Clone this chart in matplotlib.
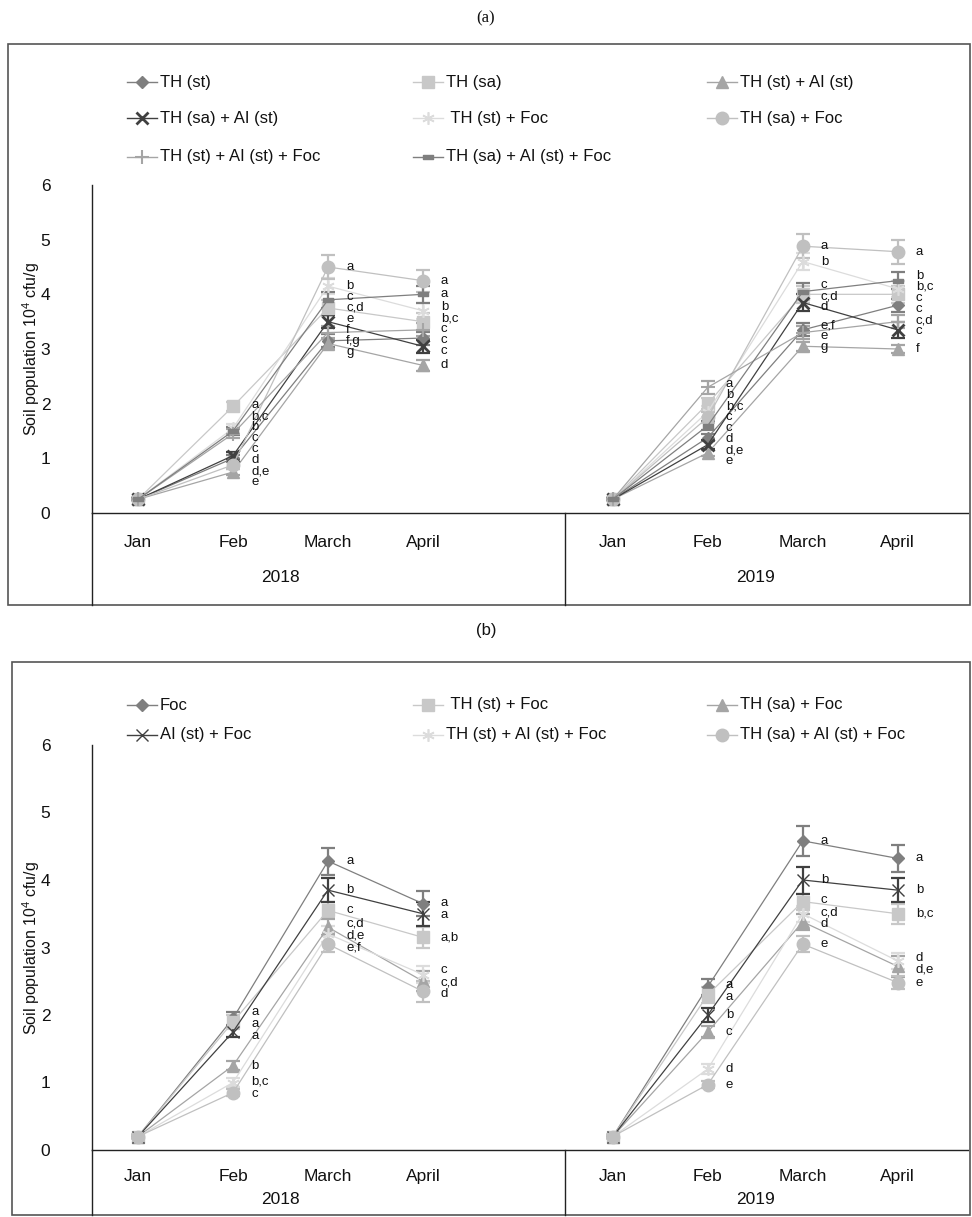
import matplotlib
matplotlib.use("Agg")
import matplotlib.pyplot as plt
from matplotlib.lines import Line2D
from matplotlib.patches import Rectangle
from matplotlib.path import Path
import numpy as np

plt.rcParams["font.family"] = ["Liberation Sans", "DejaVu Sans"]
plt.rcParams["mathtext.fontset"] = "custom"
plt.rcParams["mathtext.rm"] = "Liberation Sans"
plt.rcParams["mathtext.it"] = "Liberation Sans:italic"

# ---------------------------------------------------------------- data
months = ["Jan", "Feb", "March", "April"]
years = ["2018", "2019"]
y_label = "Soil population 10$^4$ cfu/g"

# Panel (a): values are 2018 Jan..April followed by 2019 Jan..April
a_names = ["TH (st)", "TH (sa)", "TH (st) + AI (st)", "TH (sa) + AI (st)",
           " TH (st) + Foc", "TH (sa) + Foc", "TH (st) + AI (st) + Foc",
           "TH (sa) + AI (st) + Foc"]
a_th_st = [0.25, 1.00, 3.15, 3.20, 0.25, 1.38, 3.35, 3.80]
a_th_sa = [0.25, 1.95, 3.75, 3.50, 0.25, 2.00, 4.00, 4.00]
a_th_st_ai = [0.25, 0.75, 3.10, 2.70, 0.25, 1.10, 3.05, 3.00]
a_th_sa_ai = [0.25, 1.05, 3.50, 3.05, 0.25, 1.25, 3.85, 3.35]
a_th_st_foc = [0.25, 1.55, 4.15, 3.70, 0.25, 1.85, 4.60, 4.10]
a_th_sa_foc = [0.25, 0.88, 4.50, 4.25, 0.25, 1.75, 4.88, 4.78]
a_th_st_ai_foc = [0.25, 1.45, 3.30, 3.35, 0.25, 2.30, 3.30, 3.50]
a_th_sa_ai_foc = [0.25, 1.50, 3.90, 4.00, 0.25, 1.60, 4.05, 4.25]

a_err_th_st = [0.02, 0.06, 0.12, 0.12, 0.02, 0.07, 0.12, 0.12]
a_err_th_sa = [0.02, 0.08, 0.15, 0.15, 0.02, 0.10, 0.15, 0.15]
a_err_th_st_ai = [0.02, 0.06, 0.10, 0.10, 0.02, 0.06, 0.08, 0.08]
a_err_th_sa_ai = [0.02, 0.07, 0.12, 0.12, 0.02, 0.08, 0.15, 0.15]
a_err_th_st_foc = [0.02, 0.08, 0.15, 0.15, 0.02, 0.10, 0.15, 0.15]
a_err_th_sa_foc = [0.02, 0.08, 0.22, 0.20, 0.02, 0.10, 0.22, 0.22]
a_err_th_st_ai_foc = [0.02, 0.08, 0.12, 0.12, 0.02, 0.12, 0.12, 0.12]
a_err_th_sa_ai_foc = [0.02, 0.08, 0.15, 0.15, 0.02, 0.08, 0.15, 0.15]

a_let_th_st = ["", "d", "f,g", "c", "", "d", "e,f", "c"]
a_let_th_sa = ["", "a", "c,d", "b,c", "", "b", "c,d", "c"]
a_let_th_st_ai = ["", "e", "g", "d", "", "e", "g", "f"]
a_let_th_sa_ai = ["", "c", "e", "c", "", "d,e", "d", "c"]
a_let_th_st_foc = ["", "b,c", "b", "b", "", "b,c", "b", "b,c"]
a_let_th_sa_foc = ["", "d,e", "a", "a", "", "c", "a", "a"]
a_let_th_st_ai_foc = ["", "c", "f", "c", "", "a", "e", "c,d"]
a_let_th_sa_ai_foc = ["", "b", "c", "a", "", "c", "c", "b"]

# Panel (b)
b_names = ["Foc", " TH (st) + Foc", "TH (sa) + Foc", "AI (st) + Foc",
           "TH (st) + AI (st) + Foc", "TH (sa) + AI (st) + Foc"]
b_foc = [0.20, 1.95, 4.28, 3.65, 0.20, 2.42, 4.58, 4.32]
b_th_st_foc = [0.20, 1.90, 3.55, 3.15, 0.20, 2.30, 3.68, 3.50]
b_th_sa_foc = [0.20, 1.25, 3.30, 2.50, 0.20, 1.75, 3.38, 2.72]
b_ai_st_foc = [0.20, 1.75, 3.85, 3.50, 0.20, 2.00, 4.00, 3.85]
b_th_st_ai_st_foc = [0.20, 1.00, 3.20, 2.60, 0.20, 1.20, 3.50, 2.80]
b_th_sa_ai_st_foc = [0.20, 0.85, 3.05, 2.35, 0.20, 0.97, 3.05, 2.48]

b_err_foc = [0.02, 0.10, 0.20, 0.18, 0.02, 0.12, 0.22, 0.20]
b_err_th_st_foc = [0.02, 0.10, 0.12, 0.15, 0.02, 0.12, 0.12, 0.15]
b_err_th_sa_foc = [0.02, 0.07, 0.12, 0.15, 0.02, 0.08, 0.12, 0.15]
b_err_ai_st_foc = [0.02, 0.08, 0.18, 0.18, 0.02, 0.10, 0.20, 0.18]
b_err_th_st_ai_st_foc = [0.02, 0.06, 0.12, 0.12, 0.02, 0.08, 0.12, 0.12]
b_err_th_sa_ai_st_foc = [0.02, 0.05, 0.12, 0.15, 0.02, 0.05, 0.12, 0.10]

b_let_foc = ["", "a", "a", "a", "", "a", "a", "a"]
b_let_th_st_foc = ["", "a", "c", "a,b", "", "a", "c", "b,c"]
b_let_th_sa_foc = ["", "b", "c,d", "c,d", "", "c", "d", "d,e"]
b_let_ai_st_foc = ["", "a", "b", "a", "", "b", "b", "b"]
b_let_th_st_ai_st_foc = ["", "b,c", "d,e", "c", "", "d", "c,d", "d"]
b_let_th_sa_ai_st_foc = ["", "c", "e,f", "d", "", "e", "e", "e"]

# ---------------------------------------------------------------- styles
DASH = Path([(-1, -0.4), (1, -0.4), (1, 0.4), (-1, 0.4), (-1, -0.4)],
            [Path.MOVETO, Path.LINETO, Path.LINETO, Path.LINETO, Path.CLOSEPOLY])

sty_diamond = dict(marker="D", ms=6.5, color="#7f7f7f", mec="#7f7f7f", mew=1)
sty_square = dict(marker="s", ms=8.5, color="#c8c8c8", mec="#c8c8c8", mew=1)
sty_tri = dict(marker="^", ms=8, color="#a5a5a5", mec="#a5a5a5", mew=1)
sty_xbold = dict(marker="x", ms=8.5, color="#404040", mec="#404040", mew=2)
sty_xthin = dict(marker="x", ms=9, color="#404040", mec="#404040", mew=1)
sty_star = dict(marker=(6, 2, 0), ms=9, color="#dcdcdc", mec="#dcdcdc", mew=1.2)
sty_circle = dict(marker="o", ms=9, color="#c0c0c0", mec="#c0c0c0", mew=1)
sty_plus = dict(marker="+", ms=10, color="#a5a5a5", mec="#a5a5a5", mew=1.5)
sty_dash = dict(marker=DASH, ms=7, color="#7f7f7f", mec="#7f7f7f", mew=1)

a_series = [
    (a_th_st, a_err_th_st, a_let_th_st, sty_diamond),
    (a_th_sa, a_err_th_sa, a_let_th_sa, sty_square),
    (a_th_st_ai, a_err_th_st_ai, a_let_th_st_ai, sty_tri),
    (a_th_sa_ai, a_err_th_sa_ai, a_let_th_sa_ai, sty_xbold),
    (a_th_st_foc, a_err_th_st_foc, a_let_th_st_foc, sty_star),
    (a_th_sa_foc, a_err_th_sa_foc, a_let_th_sa_foc, sty_circle),
    (a_th_st_ai_foc, a_err_th_st_ai_foc, a_let_th_st_ai_foc, sty_plus),
    (a_th_sa_ai_foc, a_err_th_sa_ai_foc, a_let_th_sa_ai_foc, sty_dash),
]
b_series = [
    (b_foc, b_err_foc, b_let_foc, sty_diamond),
    (b_th_st_foc, b_err_th_st_foc, b_let_th_st_foc, sty_square),
    (b_th_sa_foc, b_err_th_sa_foc, b_let_th_sa_foc, sty_tri),
    (b_ai_st_foc, b_err_ai_st_foc, b_let_ai_st_foc, sty_xthin),
    (b_th_st_ai_st_foc, b_err_th_st_ai_st_foc, b_let_th_st_ai_st_foc, sty_star),
    (b_th_sa_ai_st_foc, b_err_th_sa_ai_st_foc, b_let_th_sa_ai_st_foc, sty_circle),
]

W, H = 972, 1217
fig = plt.figure(figsize=(W / 100, H / 100), dpi=100)


def fx(px):
    return px / W


def fy(py):
    return 1 - py / H


# x positions: four months per year, one empty slot between the years
xpos = [0, 1, 2, 3, 5, 6, 7, 8]


def spread(vals, gap):
    """Push label heights apart so that neighbours keep at least `gap`."""
    vals = np.asarray(vals, float)
    order = np.argsort(-vals, kind="stable")
    y = vals[order].copy()
    for _ in range(400):
        moved = False
        for i in range(len(y) - 1):
            d = y[i] - y[i + 1]
            if d < gap - 1e-9:
                s = (gap - d) / 2
                y[i] += s
                y[i + 1] -= s
                moved = True
        if not moved:
            break
    out = np.empty_like(y)
    out[order] = y
    return out


def draw_panel(series, names, top_px, zero_px, frame, legend_rows, label_gap_px,
               month_drop, year_drop, title, title_y, title_font, title_size):
    left_px, right_px = 92, 968
    ax = fig.add_axes([fx(left_px), fy(zero_px), fx(right_px) - fx(left_px),
                       fy(top_px) - fy(zero_px)])
    ax.set_xlim(-0.485, 8.74)
    ax.set_ylim(0, 6)
    px_per_unit = (zero_px - top_px) / 6.0

    for vals, err, lets, st in series:
        for k in range(2):
            sl = slice(4 * k, 4 * k + 4)
            xs = xpos[sl]
            ys = vals[sl]
            ax.errorbar(xs, ys, yerr=err[sl], fmt="none", ecolor=st["color"],
                        elinewidth=1.6, capsize=5, capthick=1.6, zorder=2)
            ax.plot(xs, ys, lw=0.9, zorder=3, **st)

    # significance letters next to each month, spaced so they stay readable
    gap = label_gap_px / px_per_unit
    for i in range(8):
        if i % 4 == 0:
            continue
        vals_i = [s[0][i] for s in series]
        ys = spread(vals_i, gap)
        for s, yl in zip(series, ys):
            ax.text(xpos[i] + 0.19, yl, s[2][i], fontsize=9.5, ha="left",
                    va="center", color="#111111", zorder=5)

    for sp in ["top", "right"]:
        ax.spines[sp].set_visible(False)
    for sp in ["left", "bottom"]:
        ax.spines[sp].set_color("#222222")
        ax.spines[sp].set_linewidth(1.0)
    ax.set_yticks(range(7))
    ax.tick_params(axis="y", length=0, pad=30, labelsize=12.5, labelcolor="#111111")
    ax.set_xticks(xpos)
    ax.set_xticklabels(months + months)
    ax.tick_params(axis="x", length=0, pad=month_drop, labelsize=12.5,
                   labelcolor="#111111")
    for k, yr in enumerate(years):
        ax.annotate(yr, xy=(1.5 + 5 * k, 0), xycoords=("data", "axes fraction"),
                    xytext=(0, -year_drop * 0.72), textcoords="offset points",
                    ha="center", va="center", fontsize=12.5, color="#111111")
    ax.set_ylabel(y_label, fontsize=11.5, color="#111111")
    ax.yaxis.set_label_coords(-(left_px - 42) / (right_px - left_px), 0.5)

    # frame and the category separators below the axis
    fx0, fy0, fx1, fy1 = frame
    fig.add_artist(Rectangle((fx(fx0), fy(fy1)), fx(fx1) - fx(fx0), fy(fy0) - fy(fy1),
                             transform=fig.transFigure, fill=False,
                             edgecolor="#555555", lw=1.2))
    fig.add_artist(Line2D([fx(left_px)] * 2, [fy(zero_px), fy(fy1)],
                          transform=fig.transFigure, color="#222222", lw=1.0))
    sep_disp = ax.transData.transform((4.5, 0))
    sep_fig = fig.transFigure.inverted().transform(sep_disp)
    fig.add_artist(Line2D([sep_fig[0]] * 2, [fy(zero_px), fy(fy1)],
                          transform=fig.transFigure, color="#222222", lw=1.0))

    # legend: short line with the marker in its middle, then the name
    cols = [142, 428, 722]
    for idx, (name, s) in enumerate(zip(names, series)):
        r, c = divmod(idx, 3)
        cx, cy = cols[c], legend_rows[r]
        st = s[3]
        fig.add_artist(Line2D([fx(cx - 15), fx(cx), fx(cx + 15)], [fy(cy)] * 3,
                              transform=fig.transFigure, lw=1.0, markevery=[1],
                              **st))
        fig.text(fx(cx + 18), fy(cy), name, fontsize=12, va="center", ha="left",
                 color="#111111")
    fig.text(0.5, fy(title_y), title, ha="center", va="center", fontsize=title_size,
             family=title_font, color="#111111")
    return ax


draw_panel(a_series, a_names, top_px=185, zero_px=513, frame=(8, 44, 970, 605),
           legend_rows=[82, 118, 157], label_gap_px=11, month_drop=16,
           year_drop=64, title="(a)", title_y=18,
           title_font=["Liberation Serif", "DejaVu Serif"], title_size=12)
draw_panel(b_series, b_names, top_px=745, zero_px=1150, frame=(12, 662, 970, 1215),
           legend_rows=[705, 735], label_gap_px=12, month_drop=14,
           year_drop=49, title="(b)", title_y=631,
           title_font=["Liberation Sans", "DejaVu Sans"], title_size=12)

fig.savefig("out.png", dpi=100)
